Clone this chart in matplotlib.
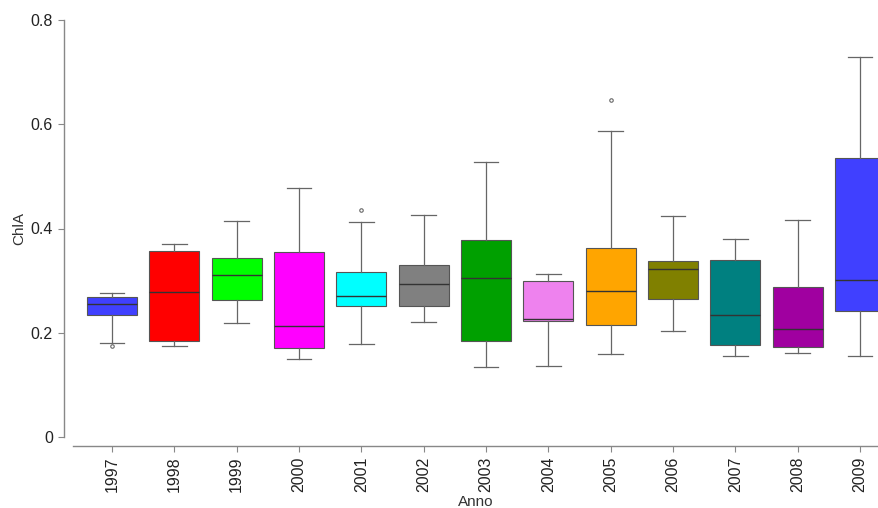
import matplotlib
matplotlib.use("Agg")
import matplotlib.pyplot as plt

plt.rcParams['font.family'] = ['Liberation Sans', 'DejaVu Sans']

years = ['1997', '1998', '1999', '2000', '2001', '2002', '2003',
         '2004', '2005', '2006', '2007', '2008', '2009']
whis_lo = [0.180, 0.175, 0.219, 0.150, 0.178, 0.221, 0.134,
           0.136, 0.159, 0.203, 0.155, 0.161, 0.155]
q1 = [0.234, 0.184, 0.263, 0.171, 0.251, 0.251, 0.184,
      0.223, 0.215, 0.265, 0.176, 0.173, 0.242]
median = [0.255, 0.278, 0.311, 0.213, 0.271, 0.294, 0.305,
          0.226, 0.280, 0.322, 0.234, 0.207, 0.301]
q3 = [0.269, 0.357, 0.343, 0.355, 0.317, 0.330, 0.378,
      0.299, 0.363, 0.338, 0.340, 0.288, 0.535]
whis_hi = [0.276, 0.370, 0.414, 0.478, 0.412, 0.426, 0.528,
           0.313, 0.587, 0.424, 0.380, 0.416, 0.729]
outliers = [[0.175], [], [], [], [0.436], [], [],
            [], [0.647], [], [], [], []]
colors = ['#4040ff', '#ff0000', '#00ff00', '#ff00ff', '#00ffff', '#808080',
          '#00a000', '#ee82ee', '#ffa500', '#808000', '#008080', '#a000a0',
          '#4040ff']

stats = []
for i, y in enumerate(years):
    stats.append({'label': y, 'whislo': whis_lo[i], 'q1': q1[i],
                  'med': median[i], 'q3': q3[i], 'whishi': whis_hi[i],
                  'fliers': outliers[i]})

fig = plt.figure(figsize=(8.79, 5.08), dpi=100)
ax = fig.add_axes([73 / 879, 71 / 508, 806 / 879, 417 / 508])

pos = list(range(1, len(years) + 1))
bp = ax.bxp(stats, positions=pos, widths=0.8, capwidths=0.4,
            patch_artist=True, showfliers=True,
            boxprops=dict(edgecolor='#555555', linewidth=0.8),
            medianprops=dict(color='#333333', linewidth=1.0),
            whiskerprops=dict(color='#666666', linewidth=0.9),
            capprops=dict(color='#666666', linewidth=0.9),
            flierprops=dict(marker='o', markersize=2.5, markerfacecolor='none',
                            markeredgecolor='#666666', markeredgewidth=0.8))
for patch, c in zip(bp['boxes'], colors):
    patch.set_facecolor(c)

ax.set_xlim(0.374, 13.305)
ax.set_ylim(0, 0.8)
ax.set_yticks([0, 0.2, 0.4, 0.6, 0.8])
ax.set_yticklabels(['0', '0.2', '0.4', '0.6', '0.8'])
ax.set_xticks(pos)
ax.set_xticklabels(years)

for s in ['top', 'right']:
    ax.spines[s].set_visible(False)
ax.spines['left'].set_position(('outward', 6.5))
ax.spines['bottom'].set_position(('outward', 6.5))
ax.spines['left'].set_bounds(0, 0.8)
for s in ['left', 'bottom']:
    ax.spines[s].set_color('#888888')
    ax.spines[s].set_linewidth(1.0)
ax.tick_params(axis='both', colors='#888888', length=4.5, width=0.8,
               labelcolor='#222222', labelsize=11.5)
ax.tick_params(axis='x', labelrotation=90, pad=3)

ax.set_xlabel('Anno', fontsize=11, color='#333333', labelpad=2)
ax.set_ylabel('ChlA', fontsize=11, color='#333333', labelpad=3)

fig.savefig('out.png', dpi=100)
